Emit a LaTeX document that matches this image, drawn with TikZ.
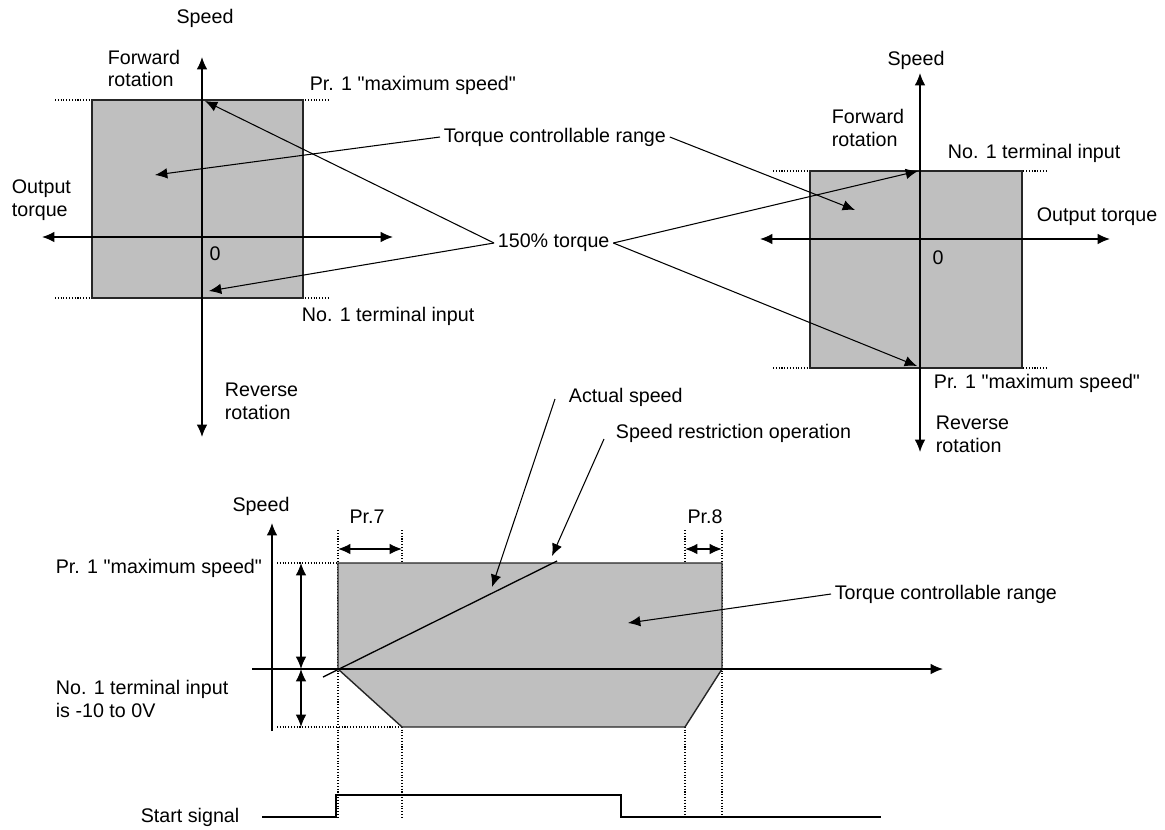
\documentclass[tikz,border=0pt]{standalone}
\usepackage{fontspec}
\setmainfont{Liberation Sans}[Ligatures=TeXOff]
\usetikzlibrary{calc,positioning,arrows.meta}
\tikzset{
   label text/.style={ inner sep=2pt, font=\fontsize{11.2}{13}\selectfont},
   two lines/.style={ label text, align=left},
   torque area/.style={ fill=black!25, draw=black!85, line width=0.8pt},
   limit line/.style={ densely dotted, line width=0.6pt},
   axis/.style={ line width=0.75pt},
   pointer/.style={ ->, line width=0.6pt},
   >={Latex[length=7pt,width=6pt]}
}

\begin{document}
\begin{tikzpicture}[x=0.02cm,y=-0.02cm]

  \useasboundingbox (0,0) rectangle (1165,829);

  %%%%%%%%%%% upper left: positive polarity

  \draw[limit line] (55,100) -- (328,100);
  \draw[limit line] (55,298) -- (328,298);
  \draw[torque area] (92,100) rectangle (303,298);
  \draw[axis,<->] (42,237) -- (393,237);
  \draw[axis,<->] (202,57) -- (202,437);

  \node[label text]              at (205,18)    (left speed)   {Speed};
  \node[two lines, anchor=west]  at (104,68.5)  (left fwd)     {Forward\\rotation};
  \node[label text, anchor=west] at (306,85)    (left max)     {Pr. 1 "maximum speed"};
  \node[two lines, anchor=west]  at (8,200)     (left out)     {Output\\torque};
  \node[label text]              at (215,254)   (left zero)    {0};
  \node[label text, anchor=west] at (298,316)   (left term)    {No. 1 terminal input};
  \node[two lines, anchor=west]  at (221,401)   (left rev)     {Reverse\\rotation};

  \coordinate (left area)   at (155,175);
  \coordinate (left top)    at (205,101);
  \coordinate (left bottom) at (209,291);

  %%%%%%%%%%% upper right: negative polarity

  \draw[limit line] (773,171) -- (1047,171);
  \draw[limit line] (773,368) -- (1047,368);
  \draw[torque area] (810,171) rectangle (1022,368);
  \draw[axis,<->] (760,239) -- (1110,239);
  \draw[axis,<->] (920,73) -- (920,452);

  \node[label text]              at (916,60)    (right speed)  {Speed};
  \node[two lines, anchor=west]  at (828,128)   (right fwd)    {Forward\\rotation};
  \node[label text, anchor=west] at (944,153)   (right term)   {No. 1 terminal input};
  \node[label text, anchor=west] at (1033,217)  (right out)    {Output torque};
  \node[label text]              at (938,258)   (right zero)   {0};
  \node[label text, anchor=west] at (930,383)   (right max)    {Pr. 1 "maximum speed"};
  \node[two lines, anchor=west]  at (932,434.5) (right rev)    {Reverse\\rotation};

  \coordinate (right area)   at (855,210);
  \coordinate (right top)    at (918,171);
  \coordinate (right bottom) at (917,366);

  %%%%%%%%%%% shared labels

  \node[label text, anchor=west] at (440,137)   (range upper)  {Torque controllable range};
  \node[label text, anchor=west] at (494,243)   (torque150)    {150\% torque};

  \draw[pointer] (range upper.west) -- (left area);
  \draw[pointer] (range upper.east) -- (right area);
  \draw[pointer] (torque150.west) -- (left top);
  \draw[pointer] (torque150.west) -- (left bottom);
  \draw[pointer] (torque150.east) -- (right top);
  \draw[pointer] (torque150.east) -- (right bottom);

  %%%%%%%%%%% lower: speed restriction with start signal

  \foreach \x in {338,402,685,722}
    \draw[limit line] (\x,530) -- (\x,818);
  \draw[limit line] (277,563) -- (338,563);
  \draw[limit line] (277,727) -- (402,727);

  \draw[torque area] (338,563) -- (722,563) -- (722,669) -- (685,727) -- (402,727) -- (338,669) -- cycle;

  \draw[axis,->] (272,731) -- (272,523);
  \draw[axis,->] (252,669) -- (943,669);
  \draw[axis,<->] (301,563) -- (301,669);
  \draw[axis,<->] (301,669) -- (301,727);
  \draw[axis,<->] (338,549) -- (402,549);
  \draw[axis,<->] (685,549) -- (722,549);

  \coordinate (speed start) at (323,677);
  \coordinate (speed end)   at (557,561);
  \draw[axis] (speed start) -- (speed end);

  \node[label text]              at (261,506)   (low speed)    {Speed};
  \node[label text]              at (367,517)   (acc time)     {Pr.7};
  \node[label text]              at (705,517)   (dec time)     {Pr.8};
  \node[label text, anchor=west] at (52,568)    (low max)      {Pr. 1 "maximum speed"};
  \node[two lines, anchor=west]  at (52,699)    (low term)     {No. 1 terminal input\\is -10 to 0V};
  \node[label text, anchor=west] at (565,397)   (actual)       {Actual speed};
  \node[label text, anchor=west] at (612,433)   (restrict)     {Speed restriction operation};
  \node[label text, anchor=west] at (831,594)   (range lower)  {Torque controllable range};
  \node[label text, anchor=west] at (137,817)   (start)        {Start signal};

  \coordinate (actual tip)   at (492,587);
  \coordinate (restrict tip) at (552,556);
  \coordinate (lower area)   at (628,623);

  \draw[pointer] ($(actual.west)+(-10,2)$) -- (actual tip);
  \draw[pointer] ($(restrict.west)+(-8,6)$) -- (restrict tip);
  \draw[pointer] (range lower.west) -- (lower area);

  \draw[line width=0.75pt] ($(start.east)+(19,0)$) -- (336,817) -- (336,795) -- (621,795) -- (621,817) -- (881,817);

\end{tikzpicture}
\end{document}
